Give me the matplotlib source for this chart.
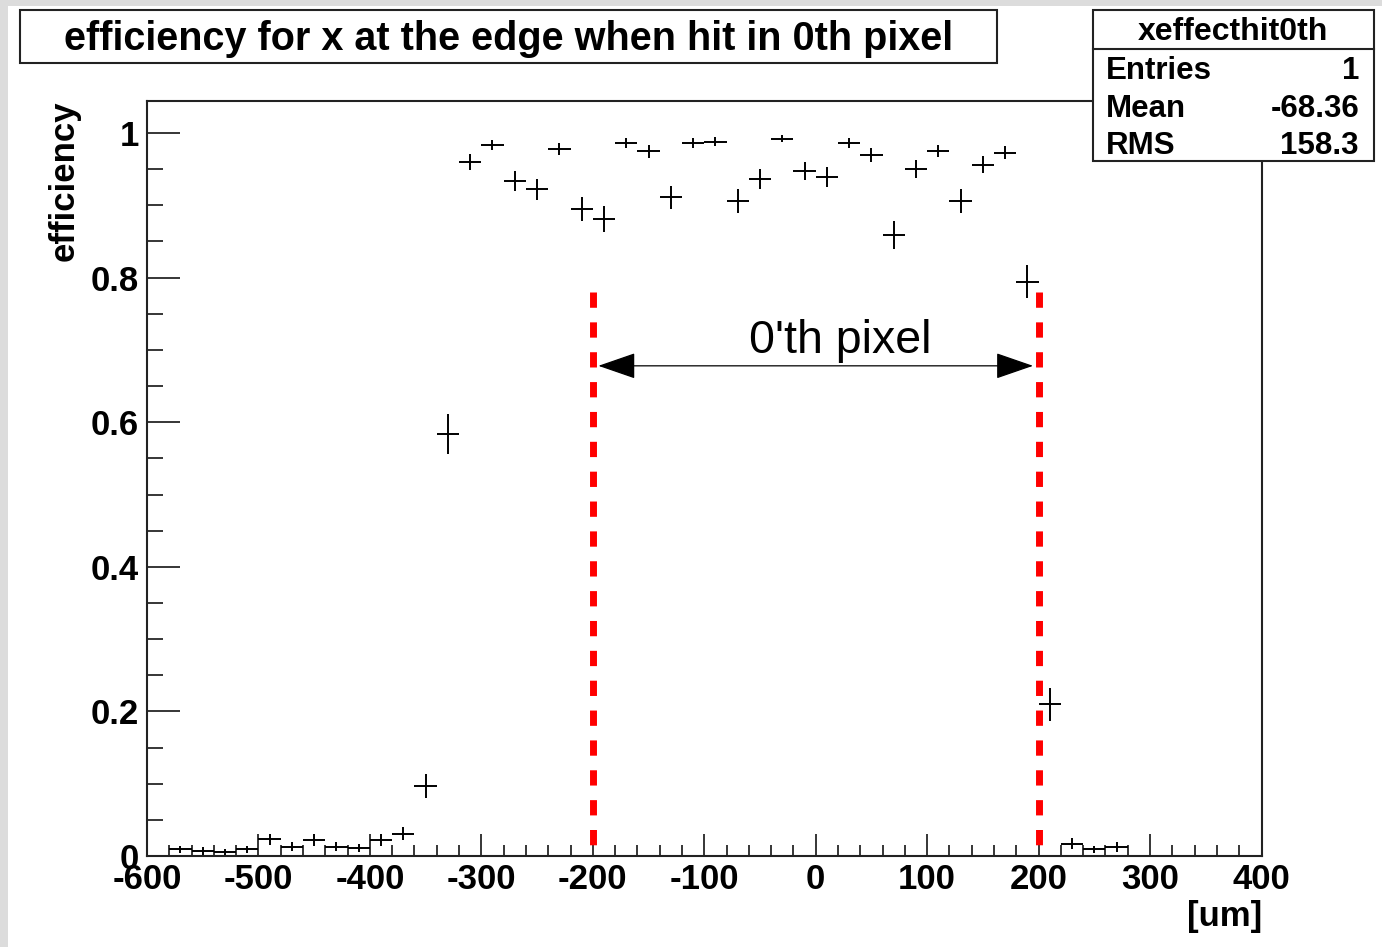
import numpy as np
import matplotlib
matplotlib.use("Agg")
import matplotlib.pyplot as plt
from matplotlib.patches import Rectangle
from matplotlib.lines import Line2D
from matplotlib.ticker import MultipleLocator, FuncFormatter

plt.rcParams['font.family'] = ['Liberation Sans', 'DejaVu Sans']
plt.rcParams['axes.unicode_minus'] = False

# ── Histogram xeffecthit0th : 50 bins of 20 um from -600 to 400 ────────────────
BIN_W = 20
centers = np.arange(-590, 400, BIN_W)
eff = [0.0, 0.009, 0.007, 0.006, 0.009, 0.023, 0.013, 0.022, 0.013, 0.011,
       0.022, 0.031, 0.097, 0.584, 0.960, 0.984, 0.934, 0.922, 0.978, 0.895,
       0.881, 0.986, 0.975, 0.911, 0.986, 0.988, 0.906, 0.936, 0.992, 0.947,
       0.939, 0.986, 0.970, 0.859, 0.950, 0.975, 0.906, 0.956, 0.973, 0.794,
       0.210, 0.017, 0.009, 0.0125, 0.0, 0.0, 0.0, 0.0, 0.0, 0.0]
err = [0.0, 0.005, 0.005, 0.004, 0.005, 0.008, 0.006, 0.008, 0.006, 0.006,
       0.008, 0.0095, 0.017, 0.028, 0.011, 0.007, 0.014, 0.015, 0.008, 0.017,
       0.018, 0.0066, 0.009, 0.016, 0.0066, 0.006, 0.0165, 0.014, 0.005, 0.0126,
       0.0135, 0.0066, 0.0096, 0.0196, 0.0123, 0.0087, 0.0165, 0.0116, 0.0091, 0.0228,
       0.023, 0.0073, 0.0053, 0.0063, 0.0, 0.0, 0.0, 0.0, 0.0, 0.0]

# pixel boundaries marked in red, and the arrow between them
edge_lo, edge_hi = -200, 200
edge_top = 0.7805
arrow_y = 0.678
arrow_lo, arrow_hi = -195, 195

title = "efficiency for x at the edge when hit in 0th pixel"
stat_name = "xeffecthit0th"
stat_rows = [("Entries", "1"), ("Mean", "-68.36"), ("RMS", "158.3")]

W, H = 1382, 947
fig = plt.figure(figsize=(W / 100, H / 100), dpi=100)
fig.patch.set_facecolor('#dcdcdc')
fig.add_artist(Rectangle((8 / W, 0), 1 - 8 / W, (H - 6) / H, transform=fig.transFigure,
                         facecolor='white', edgecolor='none', zorder=-10))

ax = fig.add_axes([147 / W, 1 - 856 / H, (1261.5 - 147) / W, (856 - 100.5) / H])
ax.set_xlim(-600, 400)
ax.set_ylim(0, 1.045)

for s in ax.spines.values():
    s.set_linewidth(1.5)
    s.set_color('#222222')

ax.xaxis.set_major_locator(MultipleLocator(100))
ax.xaxis.set_minor_locator(MultipleLocator(20))
ax.yaxis.set_major_locator(MultipleLocator(0.2))
ax.yaxis.set_minor_locator(MultipleLocator(0.05))
ax.yaxis.set_major_formatter(FuncFormatter(lambda v, p: f"{v:g}"))
ax.tick_params(axis='x', which='major', direction='in', length=16, width=1.1, pad=5,
               labelsize=25)
ax.tick_params(axis='x', which='minor', direction='in', length=8, width=1.1)
ax.tick_params(axis='y', which='major', direction='in', length=24, width=1.1, pad=6,
               labelsize=25)
ax.tick_params(axis='y', which='minor', direction='in', length=11.5, width=1.1)
for lab in ax.get_xticklabels() + ax.get_yticklabels():
    lab.set_fontweight('bold')

# error crosses for filled bins
eff_a = np.array(eff)
err_a = np.array(err)
filled = eff_a > 0
ax.errorbar(centers[filled], eff_a[filled], xerr=BIN_W / 2, yerr=err_a[filled],
            fmt='none', ecolor='black', elinewidth=1.4, capsize=0, zorder=3)

# red dashed boundaries of the 0'th pixel (dash pattern starts at the top)
ax.vlines([edge_lo, edge_hi], edge_top, 0, colors='#ff0000', linewidth=5,
          linestyles=[(0, (2.2, 2.1))], zorder=4)

ax.annotate('', xy=(arrow_hi, arrow_y), xytext=(arrow_lo, arrow_y),
            arrowprops=dict(arrowstyle='<|-|>,head_length=24,head_width=8.3',
                            mutation_scale=1, color='black', lw=0.9,
                            shrinkA=0, shrinkB=0))
ax.text(22, 0.696, "0'th pixel", ha='center', va='baseline', fontsize=33.5)

# axis titles
fig.text(64 / W, 1 - 100 / H, 'efficiency', rotation=90, ha='center', va='top',
         fontsize=25, fontweight='bold')
fig.text(1262 / W, 1 - 916 / H, '[um]', ha='right', va='center',
         fontsize=25, fontweight='bold')

# title box
fig.add_artist(Rectangle((20 / W, 1 - 63 / H), 977 / W, 53 / H, transform=fig.transFigure,
                         facecolor='white', edgecolor='#222222', linewidth=1.5, zorder=5))
fig.text(509 / W, 1 - 50 / H, title, ha='center', va='baseline',
         fontsize=28.5, fontweight='bold', zorder=6)

# statistics box
fig.add_artist(Rectangle((1093 / W, 1 - 161 / H), 281 / W, 151 / H, transform=fig.transFigure,
                         facecolor='white', edgecolor='#222222', linewidth=1.5, zorder=5))
fig.add_artist(Line2D([1093 / W, 1374 / W], [1 - 49 / H, 1 - 49 / H],
                      transform=fig.transFigure, color='#222222', linewidth=1.5, zorder=6))
fig.text(1233 / W, 1 - 40 / H, stat_name, ha='center', va='baseline',
         fontsize=23, fontweight='bold', zorder=6)
for (name, val), base in zip(stat_rows, [79, 117, 154]):
    fig.text(1106 / W, 1 - base / H, name, ha='left', va='baseline',
             fontsize=22.5, fontweight='bold', zorder=6)
    fig.text(1359 / W, 1 - base / H, val, ha='right', va='baseline',
             fontsize=22.5, fontweight='bold', zorder=6)

fig.savefig('out.png', dpi=100, facecolor=fig.get_facecolor())
